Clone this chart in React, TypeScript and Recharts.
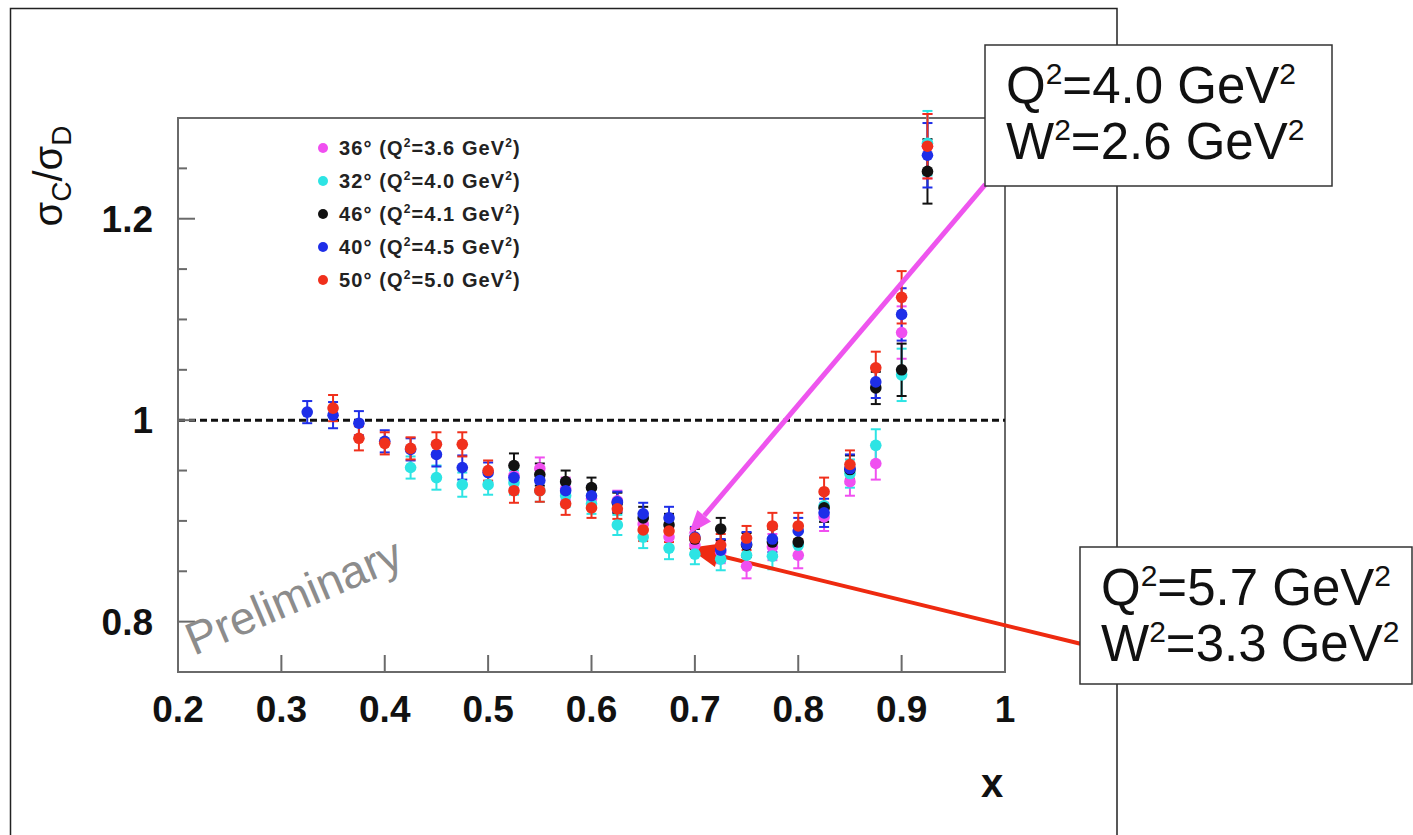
import React from 'react';
import {
  ScatterChart,
  Scatter,
  XAxis,
  YAxis,
  ErrorBar,
  ReferenceLine,
  ReferenceArea,
  Legend,
} from 'recharts';

// Bjorken x of each bin
const xValues = [
  0.325, 0.35, 0.375, 0.4, 0.425, 0.45, 0.475, 0.5, 0.525, 0.55, 0.575, 0.6, 0.625,
  0.65, 0.675, 0.7, 0.725, 0.75, 0.775, 0.8, 0.825, 0.85, 0.875, 0.9, 0.925,
];

// sigma_C / sigma_D per spectrometer angle (null = no data in that bin)
const ratio36 = [
  null, null, null, null, null, null, null, null, 0.945, 0.952, 0.932, 0.922, 0.92,
  0.897, 0.884, 0.876, 0.869, 0.855, 0.874, 0.866, 0.904, 0.939, 0.957, 1.087, 1.272,
];
const ratio32 = [
  null, null, null, null, 0.953, 0.943, 0.936, 0.936, 0.938, 0.93, 0.925, 0.917, 0.896,
  0.884, 0.873, 0.867, 0.862, 0.866, 0.865, 0.876, 0.915, 0.947, 0.975, 1.045, 1.275,
];
const ratio46 = [
  null, null, null, null, null, null, null, null, 0.955, 0.946, 0.939, 0.933, 0.918,
  0.903, 0.896, 0.882, 0.892, 0.876, 0.879, 0.879, 0.913, 0.951, 1.032, 1.05, 1.247,
];
const ratio40 = [
  1.008, 1.005, 0.997, 0.979, 0.971, 0.966, 0.953, 0.948, 0.943, 0.94, 0.93, 0.925, 0.919,
  0.907, 0.903, 0.884, 0.871, 0.877, 0.882, 0.89, 0.908, 0.952, 1.038, 1.105, 1.263,
];
const ratio50 = [
  null, 1.012, 0.982, 0.977, 0.972, 0.976, 0.976, 0.95, 0.93, 0.93, 0.917, 0.913, 0.912,
  0.891, 0.89, 0.883, 0.876, 0.883, 0.895, 0.895, 0.929, 0.956, 1.052, 1.122, 1.272,
];

// statistical uncertainty per bin
const ratioErr = [
  0.011, 0.013, 0.012, 0.011, 0.011, 0.012, 0.012, 0.01, 0.012, 0.011, 0.011, 0.01, 0.01,
  0.011, 0.011, 0.01, 0.011, 0.012, 0.013, 0.013, 0.014, 0.014, 0.016, 0.026, 0.032,
];

const seriesAngles = ['36°', '32°', '46°', '40°', '50°'];
const seriesQ2 = ['3.6', '4.0', '4.1', '4.5', '5.0'];
const seriesColors = ['#f04ff0', '#2de4e4', '#111111', '#1e2ee8', '#f0301c'];
const seriesValues = [ratio36, ratio32, ratio46, ratio40, ratio50];

const xTicks = [0.2, 0.3, 0.4, 0.5, 0.6, 0.7, 0.8, 0.9, 1];
const yTicks = [0.8, 0.85, 0.9, 0.95, 1, 1.05, 1.1, 1.15, 1.2, 1.25];
const yLabelled = [0.8, 1, 1.2];

const FONT = '"Liberation Sans", Arial, Helvetica, sans-serif';
const AXIS_GRAY = '#6a6a6a';

const toPoints = (vals: (number | null)[]) =>
  xValues
    .map((x, i) => ({ x, y: vals[i], err: ratioErr[i] }))
    .filter((p) => p.y !== null);

const fmt = (v: number) => String(Math.round(v * 100) / 100);

const XTick = (props: any) => {
  const { x, y, payload } = props;
  return (
    <g>
      <line x1={x} x2={x} y1={y} y2={y - 17} stroke={AXIS_GRAY} strokeWidth={2} />
      <text x={x} y={y + 50} textAnchor="middle" fontFamily={FONT} fontWeight="bold" fontSize={37} fill="#111">
        {fmt(payload.value)}
      </text>
    </g>
  );
};

const YTick = (props: any) => {
  const { x, y, payload } = props;
  const v = payload.value;
  const major = yLabelled.some((m) => Math.abs(m - v) < 1e-6);
  return (
    <g>
      <line x1={x} x2={x + (major ? 17 : 9)} y1={y} y2={y} stroke={AXIS_GRAY} strokeWidth={2} />
      {major && (
        <text x={x - 25} y={y + 13} textAnchor="end" fontFamily={FONT} fontWeight="bold" fontSize={37} fill="#111">
          {fmt(v)}
        </text>
      )}
    </g>
  );
};

const dotShape = (color: string) => (p: any) =>
  <circle cx={p.cx} cy={p.cy} r={5.8} fill={color} />;

const arrowShape = (color: string, lineW: number, headLen: number, headW: number) => (p: any) => {
  const { x1, y1, x2, y2 } = p;
  const dx = x2 - x1;
  const dy = y2 - y1;
  const len = Math.sqrt(dx * dx + dy * dy) || 1;
  const ux = dx / len;
  const uy = dy / len;
  const bx = x2 - ux * headLen;
  const by = y2 - uy * headLen;
  const nx = -uy * (headW / 2);
  const ny = ux * (headW / 2);
  return (
    <g>
      <line x1={x1} y1={y1} x2={bx} y2={by} stroke={color} strokeWidth={lineW} />
      <polygon points={`${x2},${y2} ${bx + nx},${by + ny} ${bx - nx},${by - ny}`} fill={color} />
    </g>
  );
};

const LegendBox = () => (
  <div style={{ fontFamily: FONT, fontWeight: 'bold', fontSize: 20, color: '#222' }}>
    {seriesAngles.map((a, i) => (
      <div key={a} style={{ height: 33, display: 'flex', alignItems: 'center' }}>
        <span
          style={{
            display: 'inline-block',
            width: 10,
            height: 10,
            borderRadius: '50%',
            background: seriesColors[i],
            marginRight: 11,
          }}
        />
        <span style={{ letterSpacing: 1.1, whiteSpace: 'nowrap' }}>
          {a} (Q<sup style={{ fontSize: 12 }}>2</sup>={seriesQ2[i]} GeV<sup style={{ fontSize: 12 }}>2</sup>)
        </span>
      </div>
    ))}
  </div>
);

const Sup = ({ children }: { children: React.ReactNode }) => (
  <tspan fontSize={30} dy={-19}>
    {children}
  </tspan>
);

const KinBox = (props: { x: number; y: number; w: number; h: number; q2: string; w2: string }) => {
  const { x, y, w, h, q2, w2 } = props;
  return (
    <g>
      <rect x={x} y={y} width={w} height={h} fill="#fff" stroke="#333" strokeWidth={1.5} />
      <text x={x + 21} y={y + 58} fontFamily={FONT} fontSize={51} fill="#111">
        Q<Sup>2</Sup>
        <tspan dy={19}>={q2} GeV</tspan>
        <Sup>2</Sup>
      </text>
      <text x={x + 21} y={y + 114} fontFamily={FONT} fontSize={51} fill="#111">
        W<Sup>2</Sup>
        <tspan dy={19}>={w2} GeV</tspan>
        <Sup>2</Sup>
      </text>
    </g>
  );
};

export default function App() {
  return (
    <div style={{ position: 'absolute', left: 0, top: 0, width: 1413, height: 835, background: '#fff' }}>
      <ScatterChart width={1413} height={835} margin={{ top: 118, right: 408, bottom: 103, left: 100 }}>
        <XAxis
          type="number"
          dataKey="x"
          domain={[0.2, 1]}
          ticks={xTicks}
          allowDataOverflow
          height={60}
          tickSize={0}
          tickMargin={0}
          tickLine={false}
          tick={<XTick />}
          axisLine={{ stroke: AXIS_GRAY, strokeWidth: 2 }}
        />
        <YAxis
          type="number"
          dataKey="y"
          domain={[0.75, 1.3]}
          ticks={yTicks}
          allowDataOverflow
          width={78}
          tickSize={0}
          tickMargin={0}
          tickLine={false}
          tick={<YTick />}
          axisLine={{ stroke: AXIS_GRAY, strokeWidth: 2 }}
        />
        <ReferenceArea x1={0.2} x2={1} y1={0.75} y2={1.3} fill="none" stroke={AXIS_GRAY} strokeWidth={2} ifOverflow="visible" />
        <ReferenceLine y={1} stroke="#111" strokeWidth={3} strokeDasharray="7 4" />
        {seriesValues.map((vals, i) => (
          <Scatter
            key={seriesAngles[i]}
            name={seriesAngles[i]}
            data={toPoints(vals)}
            fill={seriesColors[i]}
            shape={dotShape(seriesColors[i])}
            isAnimationActive={false}
          >
            <ErrorBar dataKey="err" direction="y" width={5} stroke={seriesColors[i]} strokeWidth={2} isAnimationActive={false} />
          </Scatter>
        ))}
        <ReferenceLine
          segment={[{ x: 0.981, y: 1.234 }, { x: 0.694, y: 0.887 }]}
          ifOverflow="visible"
          shape={arrowShape('#ee55ee', 5, 24, 18)}
        />
        <ReferenceLine
          segment={[{ x: 1.073, y: 0.778 }, { x: 0.694, y: 0.873 }]}
          ifOverflow="visible"
          shape={arrowShape('#ee2a10', 4, 30, 24)}
        />
        <Legend
          layout="vertical"
          align="center"
          verticalAlign="middle"
          content={() => <LegendBox />}
          wrapperStyle={{ left: 318, top: 131, width: 260, height: 170 }}
        />
      </ScatterChart>

      <svg
        width={1413}
        height={835}
        style={{ position: 'absolute', left: 0, top: 0, pointerEvents: 'none' }}
      >
        {/* outer page frame */}
        <polyline points="10.5,835 10.5,8.5 1117,8.5 1117,835" fill="none" stroke="#222" strokeWidth={1.5} />

        {/* y axis title */}
        <text transform="translate(62,176) rotate(-90)" textAnchor="middle" fontFamily={FONT} fontSize={40} fill="#111">
          σ<tspan fontSize={28} dy={9}>C</tspan>
          <tspan dy={-9}>/σ</tspan>
          <tspan fontSize={28} dy={9}>D</tspan>
        </text>

        {/* x axis title */}
        <text x={992} y={797} textAnchor="middle" fontFamily={FONT} fontWeight="bold" fontSize={40} fill="#111">
          x
        </text>

        <text transform="translate(194,656) rotate(-23)" fontFamily={FONT} fontSize={46} fill="#8c8c8c">
          Preliminary
        </text>

        <KinBox x={985} y={45} w={347} h={141} q2="4.0" w2="2.6" />
        <KinBox x={1080} y={547} w={332} h={137} q2="5.7" w2="3.3" />
      </svg>
    </div>
  );
}
